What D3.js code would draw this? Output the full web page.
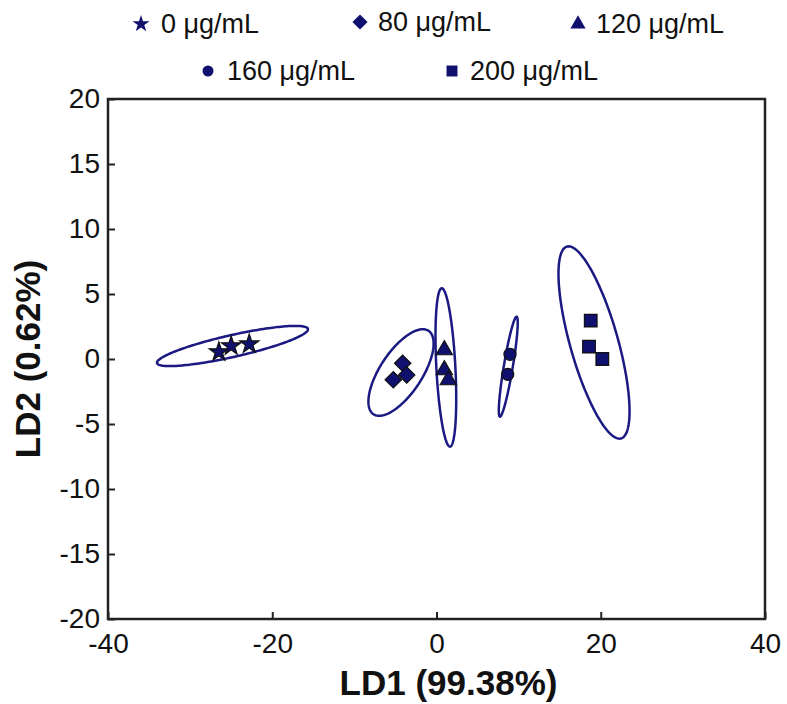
<!DOCTYPE html>
<html>
<head>
<meta charset="utf-8">
<script src="https://cdn.jsdelivr.net/npm/d3@7"></script>
<style>
  body { margin: 0; background: #fff; }
  svg { display: block; font-family: "Liberation Sans", Arial, sans-serif; }
</style>
</head>
<body>
<div id="chart"></div>
<script>
// ######################## Data #############################################
const groups = ["0 μg/mL", "80 μg/mL", "120 μg/mL", "160 μg/mL", "200 μg/mL"];

// LD1 / LD2 scores per group
const ld1 = [
    [-26.5, -25.0, -22.8],
    [-5.26, -4.12, -3.63],
    [0.95, 0.95, 1.44],
    [8.95, 8.67],
    [18.78, 18.57, 20.19]
];
const ld2 = [
    [0.54, 1.0, 1.15],
    [-1.6, -0.33, -1.23],
    [0.69, -0.85, -1.62],
    [0.36, -1.18],
    [2.95, 0.95, 0.0]
];

// confidence ellipses: centre, and two conjugate semi-axes, in data units
const ellipseCenter = [[-24.84, 1.0], [-4.32, -1.04], [1.14, -0.65], [8.74, -0.59], [19.18, 1.27]];
const ellipseAxisA = [[9.19, 1.31], [3.35, 3.21], [-0.505, 6.09], [1.017, 3.846], [-3.29, 7.38]];
const ellipseAxisB = [[0.29, -0.82], [2.13, -0.89], [1.156, 0.038], [0.54, -0.057], [2.81, 0.5]];

const xTicks = [-40, -20, 0, 20, 40];
const yTicks = [-20, -15, -10, -5, 0, 5, 10, 15, 20];

// ######################## Chart #############################################
const width = 787, height = 704;
const navy = "#10106e";
const ellipseColor = "#1a1a82";

const svg = d3.select("#chart").append("svg")
    .attr("width", width)
    .attr("height", height);

const x = d3.scaleLinear().domain([-40, 40]).range([108, 765]);
const y = d3.scaleLinear().domain([-20, 20]).range([619, 99]);

// symbol per group: [d3 symbol, size in plot, size in legend, rotation]
const shapes = [
    [d3.symbolStar, 115, 90, 0],
    [d3.symbolSquare, 135, 115, 45],
    [d3.symbolTriangle, 115, 100, 0],
    [d3.symbolCircle, 115, 95, 0],
    [d3.symbolSquare, 160, 120, 0]
];

// axes
svg.append("g")
    .attr("transform", `translate(0,${y(-20)})`)
    .call(d3.axisBottom(x).tickValues(xTicks).tickFormat(d => String(d))
        .tickSizeInner(-7).tickSizeOuter(0).tickPadding(14))
    .call(g => g.select(".domain").remove())
    .call(g => g.selectAll("line").attr("stroke", "#222").attr("stroke-width", 2))
    .call(g => g.selectAll("text").attr("font-size", 28).attr("fill", "#111")
        .attr("font-family", "'Liberation Sans', Arial, sans-serif"));

svg.append("g")
    .attr("transform", `translate(${x(-40)},0)`)
    .call(d3.axisLeft(y).tickValues(yTicks).tickFormat(d => String(d))
        .tickSizeInner(-7).tickSizeOuter(0).tickPadding(8))
    .call(g => g.select(".domain").remove())
    .call(g => g.selectAll("line").attr("stroke", "#222").attr("stroke-width", 2))
    .call(g => g.selectAll("text").attr("font-size", 28).attr("fill", "#111")
        .attr("font-family", "'Liberation Sans', Arial, sans-serif"));

// plot frame
svg.append("rect")
    .attr("x", x(-40)).attr("y", y(20))
    .attr("width", x(40) - x(-40)).attr("height", y(-20) - y(20))
    .attr("fill", "none").attr("stroke", "#222").attr("stroke-width", 2.5);

// axis titles
svg.append("text")
    .attr("x", (x(-40) + x(40)) / 2 + 12).attr("y", 695)
    .attr("text-anchor", "middle").attr("font-size", 35).attr("font-weight", "bold")
    .attr("fill", "#111")
    .text("LD1 (99.38%)");

svg.append("text")
    .attr("transform", `translate(40,${(y(20) + y(-20)) / 2}) rotate(-90)`)
    .attr("text-anchor", "middle").attr("font-size", 35).attr("font-weight", "bold")
    .attr("fill", "#111")
    .text("LD2 (0.62%)");

// ellipses
const steps = d3.range(0, 2 * Math.PI, Math.PI / 90);
const ellipseLine = d3.line().curve(d3.curveLinearClosed);
groups.forEach((g, i) => {
    const [cx, cy] = ellipseCenter[i];
    const [ax, ay] = ellipseAxisA[i];
    const [bx, by] = ellipseAxisB[i];
    const pts = steps.map(t => [
        x(cx + ax * Math.cos(t) + bx * Math.sin(t)),
        y(cy + ay * Math.cos(t) + by * Math.sin(t))
    ]);
    svg.append("path")
        .attr("d", ellipseLine(pts))
        .attr("fill", "none")
        .attr("stroke", ellipseColor)
        .attr("stroke-width", 2.5);
});

// points
groups.forEach((g, i) => {
    const [type, size, , rot] = shapes[i];
    const pts = ld1[i].map((v, j) => [v, ld2[i][j]]);
    svg.append("g").selectAll("path")
        .data(pts)
        .join("path")
        .attr("transform", d => `translate(${x(d[0])},${y(d[1])}) rotate(${rot})`)
        .attr("d", d3.symbol(type, size))
        .attr("fill", navy)
        .attr("stroke", "#111")
        .attr("stroke-width", 1.2);
});

// legend: two rows
const legendPos = [[141, 24], [360, 22], [578, 24], [208, 71], [452, 71]];
const legend = svg.append("g");
groups.forEach((g, i) => {
    const [type, , lsize, rot] = shapes[i];
    const [lx, ly] = legendPos[i];
    legend.append("path")
        .attr("transform", `translate(${lx},${ly}) rotate(${rot})`)
        .attr("d", d3.symbol(type, lsize))
        .attr("fill", navy);
    legend.append("text")
        .attr("x", lx + (i === 0 ? 20 : i === 3 ? 19 : 18))
        .attr("y", ly + 9)
        .attr("font-size", 27)
        .attr("fill", "#111")
        .text(g);
});
</script>
</body>
</html>
